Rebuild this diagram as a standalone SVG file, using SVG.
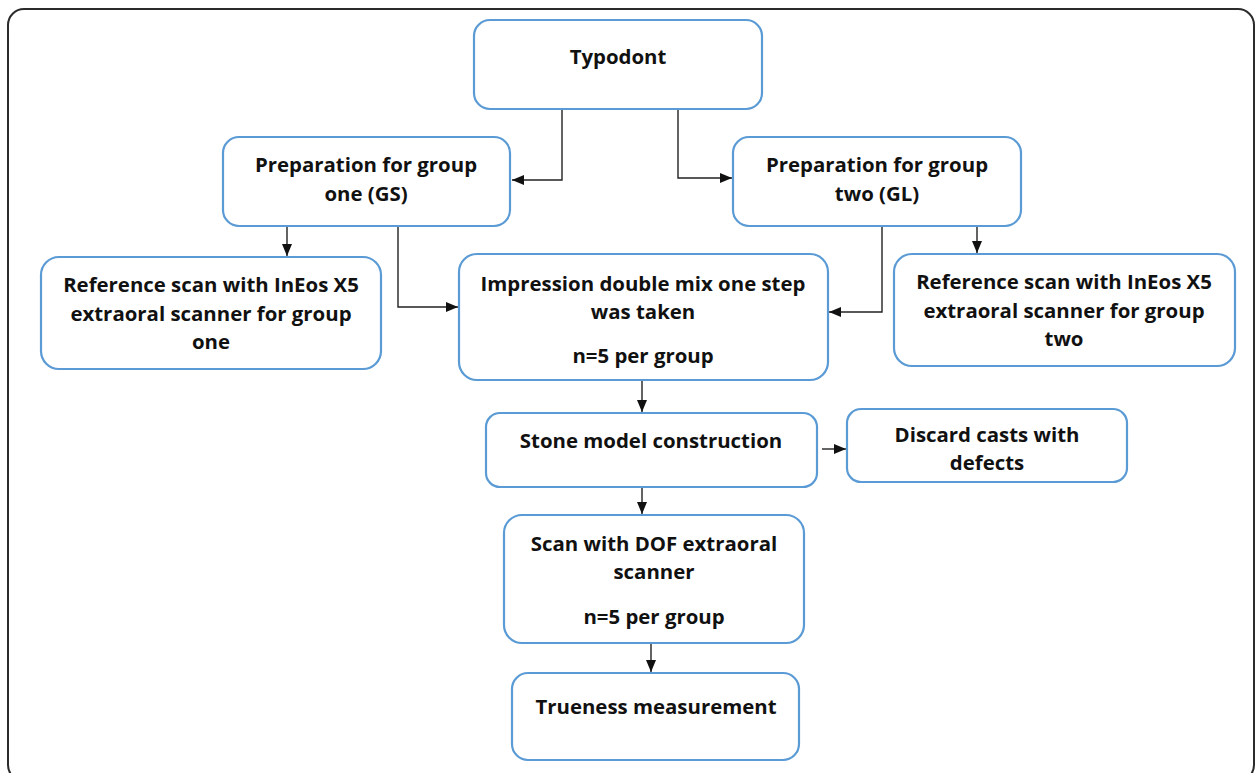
<svg xmlns="http://www.w3.org/2000/svg" width="1257" height="773" viewBox="0 0 1257 773">
<style>
.frame{fill:#fff;stroke:#2b2b2b;stroke-width:2}
.box{fill:#fff;stroke:#5b9bd5;stroke-width:2.2}
.t{font-family:"Open Sans","Liberation Sans",sans-serif;font-weight:700;font-size:20.4px;fill:#111;text-anchor:middle}
.c{fill:none;stroke:#222;stroke-width:1.4}
</style>
<defs>
<marker id="ah" markerUnits="userSpaceOnUse" markerWidth="14" markerHeight="12" refX="12" refY="6" orient="auto">
<path d="M0,1 L12,6 L0,11 Z" fill="#111"/>
</marker>
</defs>
<rect x="0" y="0" width="1257" height="773" fill="#fff"/>
<rect class="frame" x="8" y="9" width="1246" height="772" rx="16"/>

<g id="connectors">
<path class="c" d="M613,109 H562 V180 H512" marker-end="url(#ah)"/>
<path class="c" d="M630,109 H678 V178 H732" marker-end="url(#ah)"/>
<path class="c" d="M287,226 V256" marker-end="url(#ah)"/>
<path class="c" d="M335,226 H398 V307 H458" marker-end="url(#ah)"/>
<path class="c" d="M932,226 H882 V312 H829" marker-end="url(#ah)"/>
<path class="c" d="M977,226 V253" marker-end="url(#ah)"/>
<path class="c" d="M642,380 V412" marker-end="url(#ah)"/>
<path class="c" d="M822,449 H846" marker-end="url(#ah)"/>
<path class="c" d="M642,487 V514" marker-end="url(#ah)"/>
<path class="c" d="M651,643 V672" marker-end="url(#ah)"/>
</g>

<g id="typodont">
<rect class="box" x="474" y="20" width="288" height="89" rx="16"/>
<text class="t" x="618" y="64">Typodont</text>
</g>
<g id="prep-one">
<rect class="box" x="223" y="137" width="287" height="89" rx="16"/>
<text class="t" x="366" y="172">Preparation for group</text>
<text class="t" x="366" y="201">one (GS)</text>
</g>
<g id="prep-two">
<rect class="box" x="733" y="137" width="288" height="89" rx="16"/>
<text class="t" x="877" y="172">Preparation for group</text>
<text class="t" x="877" y="201">two (GL)</text>
</g>
<g id="ref-one">
<rect class="box" x="41" y="257" width="340" height="112" rx="18"/>
<text class="t" x="211" y="292">Reference scan with InEos X5</text>
<text class="t" x="211" y="321">extraoral scanner for group</text>
<text class="t" x="211" y="349">one</text>
</g>
<g id="impression">
<rect class="box" x="459" y="254" width="369" height="126" rx="18"/>
<text class="t" x="643" y="291">Impression double mix one step</text>
<text class="t" x="643" y="319">was taken</text>
<text class="t" x="643" y="363">n=5 per group</text>
</g>
<g id="ref-two">
<rect class="box" x="894" y="254" width="341" height="112" rx="18"/>
<text class="t" x="1064" y="289">Reference scan with InEos X5</text>
<text class="t" x="1064" y="318">extraoral scanner for group</text>
<text class="t" x="1064" y="346">two</text>
</g>
<g id="stone">
<rect class="box" x="486" y="413" width="331" height="74" rx="14"/>
<text class="t" x="651" y="448">Stone model construction</text>
</g>
<g id="discard">
<rect class="box" x="847" y="409" width="280" height="73" rx="14"/>
<text class="t" x="987" y="442">Discard casts with</text>
<text class="t" x="987" y="470">defects</text>
</g>
<g id="scan-dof">
<rect class="box" x="504" y="515" width="300" height="128" rx="18"/>
<text class="t" x="654" y="551">Scan with DOF extraoral</text>
<text class="t" x="654" y="579">scanner</text>
<text class="t" x="654" y="624">n=5 per group</text>
</g>
<g id="trueness">
<rect class="box" x="512" y="673" width="287" height="87" rx="16"/>
<text class="t" x="656" y="714">Trueness measurement</text>
</g>
</svg>
